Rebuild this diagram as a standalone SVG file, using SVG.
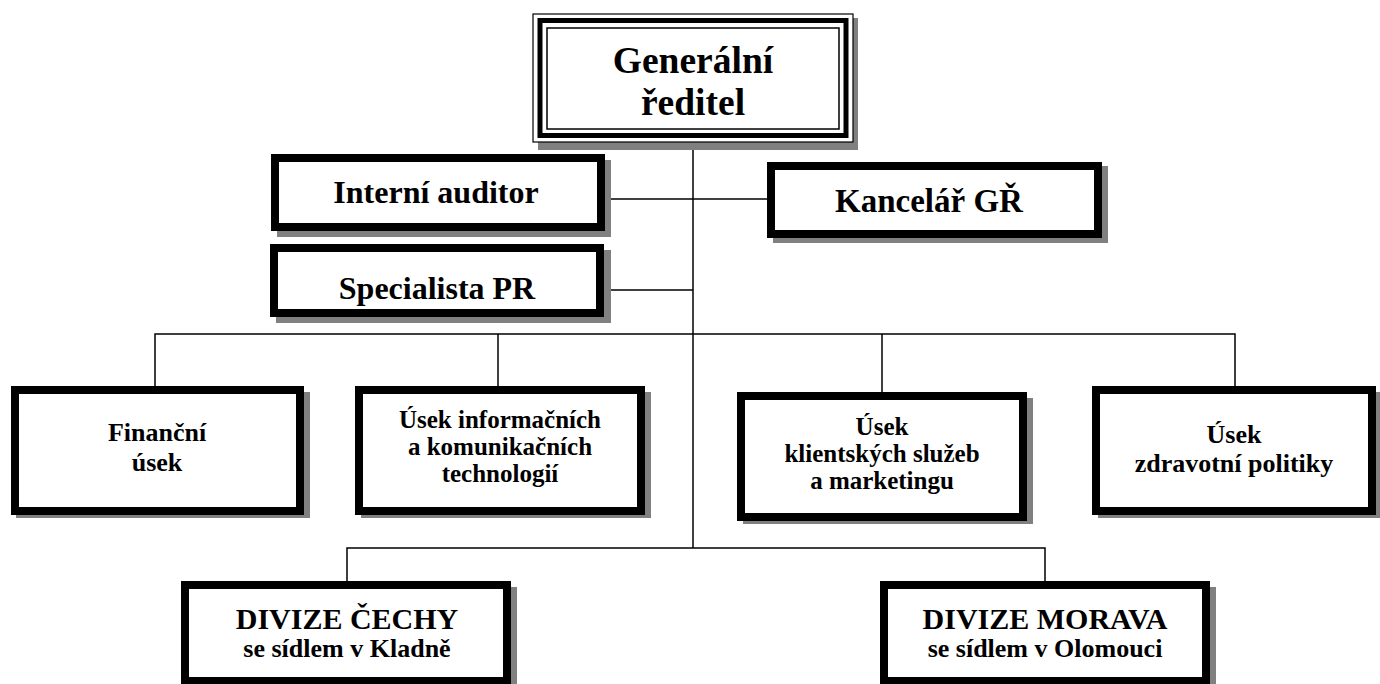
<svg xmlns="http://www.w3.org/2000/svg" width="1380" height="684" viewBox="0 0 1380 684">
<style>
.sh{fill:#808080;stroke:none}
.bx{fill:#fff;stroke:#000;stroke-width:8}
.t{font-family:"Liberation Serif","Times New Roman",serif;font-weight:bold;text-anchor:middle;fill:#000}
.c{stroke:#000;stroke-width:1.5;fill:none}
.l2{font-size:26px}
.l3{font-size:25px}
</style>
<rect width="1380" height="684" fill="#fff"/>
<g id="connectors">
<line class="c" x1="693" y1="143" x2="693" y2="548"/>
<line class="c" x1="605" y1="199" x2="767" y2="199"/>
<line class="c" x1="604" y1="290" x2="693" y2="290"/>
<polyline class="c" points="155,386 155,334 1235,334 1235,386"/>
<line class="c" x1="498" y1="334" x2="498" y2="386"/>
<line class="c" x1="882" y1="334" x2="882" y2="392"/>
<polyline class="c" points="347,581 347,548 1045,548 1045,581"/>
</g>
<g id="gr">
<rect x="538" y="18" width="320" height="132" class="sh"/>
<rect x="533" y="14" width="320" height="128" fill="#fff" stroke="#000" stroke-width="1.2"/>
<rect x="540" y="20.5" width="306" height="115" fill="none" stroke="#000" stroke-width="5"/>
<rect x="547" y="28" width="292" height="101" fill="none" stroke="#000" stroke-width="1.5"/>
<text class="t" x="693" y="73" font-size="37.5">Generální</text>
<text class="t" x="693" y="115" font-size="37.5">ředitel</text>
</g>
<g id="auditor">
<rect x="277" y="160" width="334" height="77" class="sh"/>
<rect x="275" y="158" width="326" height="69" class="bx"/>
<text class="t" x="436" y="203" font-size="32">Interní auditor</text>
</g>
<g id="pr">
<rect x="276" y="250" width="335" height="73" class="sh"/>
<rect x="274" y="248" width="326" height="65" class="bx"/>
<text class="t" x="437" y="299" font-size="32">Specialista PR</text>
</g>
<g id="kancelar">
<rect x="773" y="166" width="335" height="77" class="sh"/>
<rect x="771" y="166" width="327" height="68" class="bx"/>
<text class="t" x="929" y="212" font-size="33">Kancelář GŘ</text>
</g>
<g id="financni">
<rect x="16" y="392" width="294" height="126" class="sh"/>
<rect x="15" y="390" width="285" height="121" class="bx"/>
<text class="t l2" x="157" y="441">Finanční</text>
<text class="t l2" x="157" y="471">úsek</text>
</g>
<g id="ikt">
<rect x="361" y="392" width="290" height="126" class="sh"/>
<rect x="359" y="390" width="282" height="121" class="bx"/>
<text class="t l3" x="500" y="428">Úsek informačních</text>
<text class="t l3" x="500" y="455">a komunikačních</text>
<text class="t l3" x="500" y="482">technologií</text>
</g>
<g id="klienti">
<rect x="743" y="398" width="290" height="126" class="sh"/>
<rect x="741" y="396" width="282" height="121" class="bx"/>
<text class="t l3" x="882" y="435">Úsek</text>
<text class="t l3" x="882" y="462">klientských služeb</text>
<text class="t l3" x="882" y="489">a marketingu</text>
</g>
<g id="zdravotni">
<rect x="1098" y="392" width="282" height="126" class="sh"/>
<rect x="1096" y="390" width="276" height="121" class="bx"/>
<text class="t l2" x="1234" y="443">Úsek</text>
<text class="t l2" x="1234" y="472">zdravotní politiky</text>
</g>
<g id="cechy">
<rect x="187" y="587" width="330" height="105" class="sh"/>
<rect x="185" y="585" width="322" height="96" class="bx"/>
<text class="t" x="347" y="629" font-size="30">DIVIZE ČECHY</text>
<text class="t" x="347" y="657" font-size="26">se sídlem v Kladně</text>
</g>
<g id="morava">
<rect x="886" y="587" width="330" height="105" class="sh"/>
<rect x="884" y="585" width="322" height="96" class="bx"/>
<text class="t" x="1045" y="629" font-size="30">DIVIZE MORAVA</text>
<text class="t" x="1045" y="657" font-size="26">se sídlem v Olomouci</text>
</g>
</svg>
